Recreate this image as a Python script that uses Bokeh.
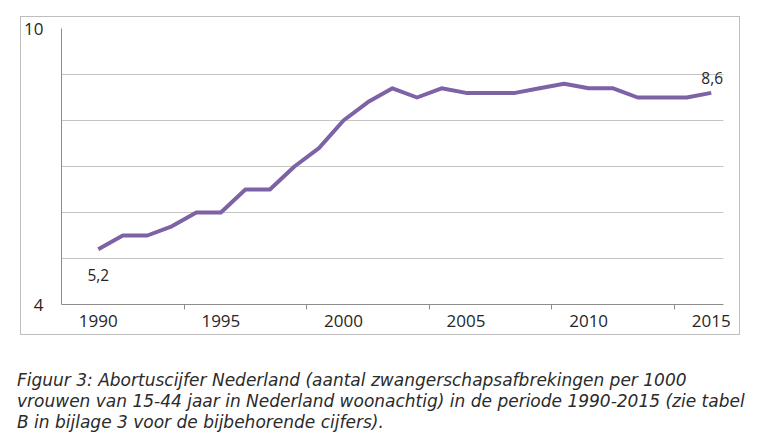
from bokeh.plotting import figure
from bokeh.layouts import column, row
from bokeh.models import FixedTicker, Label, ColumnDataSource, Range1d, Spacer
from bokeh.embed import file_html
from bokeh.resources import INLINE

years = list(range(1990, 2016))
rates = [5.2, 5.5, 5.5, 5.7, 6.0, 6.0, 6.5, 6.5, 7.0, 7.4, 8.0, 8.4, 8.7,
         8.5, 8.7, 8.6, 8.6, 8.6, 8.7, 8.8, 8.7, 8.7, 8.5, 8.5, 8.5, 8.6]
x_tick_years = [1990, 1995, 2000, 2005, 2010, 2015]
y_tick_values = [4, 10]
y_grid_values = [5, 6, 7, 8, 9, 10]
label_years = [1990, 2015]
caption_lines = [
    "Figuur 3: Abortuscijfer Nederland (aantal zwangerschapsafbrekingen per 1000",
    "vrouwen van 15-44 jaar in Nederland woonachtig) in de periode 1990-2015 (zie tabel",
    "B in bijlage 3 voor de bijbehorende cijfers).",
]

AX = "#8c8c8c"
TXT = "#262626"

p = figure(width=720, height=319, output_backend="svg", toolbar_location=None,
           x_range=Range1d(years[0] - 1.5, years[-1] + 0.5), y_range=Range1d(4, 10),
           min_border_left=38, min_border_right=18, min_border_top=11, min_border_bottom=32,
           styles={"border": "1px solid #bdbdbd", "box-sizing": "border-box"})
p.outline_line_color = None
p.background_fill_color = "white"
p.border_fill_color = "white"

# x axis: labels every 5 years, tick marks between category groups
p.xaxis.ticker = FixedTicker(ticks=x_tick_years,
                             minor_ticks=[y + 3.5 for y in x_tick_years[:-1]])
p.xaxis.axis_line_color = AX
p.xaxis.major_tick_line_color = None
p.xaxis.major_tick_out = 0
p.xaxis.major_tick_in = 0
p.xaxis.minor_tick_line_color = AX
p.xaxis.minor_tick_out = 5
p.xaxis.minor_tick_in = 0
p.xaxis.major_label_standoff = 5
p.xaxis.major_label_text_font = "Open Sans"
p.xaxis.major_label_text_font_size = "17px"
p.xaxis.major_label_text_color = TXT

# y axis: only 4 and 10 labelled
p.yaxis.ticker = FixedTicker(ticks=y_tick_values)
p.yaxis.axis_line_color = AX
p.yaxis.major_tick_line_color = None
p.yaxis.minor_tick_line_color = None
p.yaxis.major_tick_out = 0
p.yaxis.major_tick_in = 0
p.yaxis.major_label_standoff = 18
p.yaxis.major_label_text_font = "Open Sans"
p.yaxis.major_label_text_font_size = "17px"
p.yaxis.major_label_text_color = TXT

p.xgrid.visible = False
p.ygrid.ticker = FixedTicker(ticks=y_grid_values)
p.ygrid.grid_line_color = "#c4c4c4"

src = ColumnDataSource(dict(x=years, y=rates))
p.line("x", "y", source=src, line_color="#7D62A6", line_width=4, line_join="round")

offsets = {label_years[0]: (0, -26), label_years[1]: (1, 15)}
for yr in label_years:
    v = rates[years.index(yr)]
    dx, dy = offsets[yr]
    p.add_layout(Label(x=yr, y=v, text=f"{v:.1f}".replace(".", ","),
                       x_offset=dx, y_offset=dy,
                       text_font="Open Sans", text_font_size="15.5px", text_color=TXT,
                       text_align="center", text_baseline="middle"))

# caption
c = figure(width=768, height=106, output_backend="svg", toolbar_location=None,
           x_range=Range1d(0, 768), y_range=Range1d(106, 0),
           x_axis_type=None, y_axis_type=None,
           min_border_left=0, min_border_right=0, min_border_top=0, min_border_bottom=0)
c.outline_line_color = None
c.grid.visible = False
c.border_fill_color = "white"
c.background_fill_color = "white"
for i, line in enumerate(caption_lines):
    c.add_layout(Label(x=16.5, y=44 + 21 * i, text=line,
                       text_font="DejaVu Sans", text_font_style="italic",
                       text_font_size="17px", text_color="#2b2b2b",
                       text_baseline="alphabetic"))

layout = column(Spacer(width=768, height=16), row(Spacer(width=20, height=319), p), c,
                spacing=0)
open("out.html", "w").write(file_html(layout, INLINE))
